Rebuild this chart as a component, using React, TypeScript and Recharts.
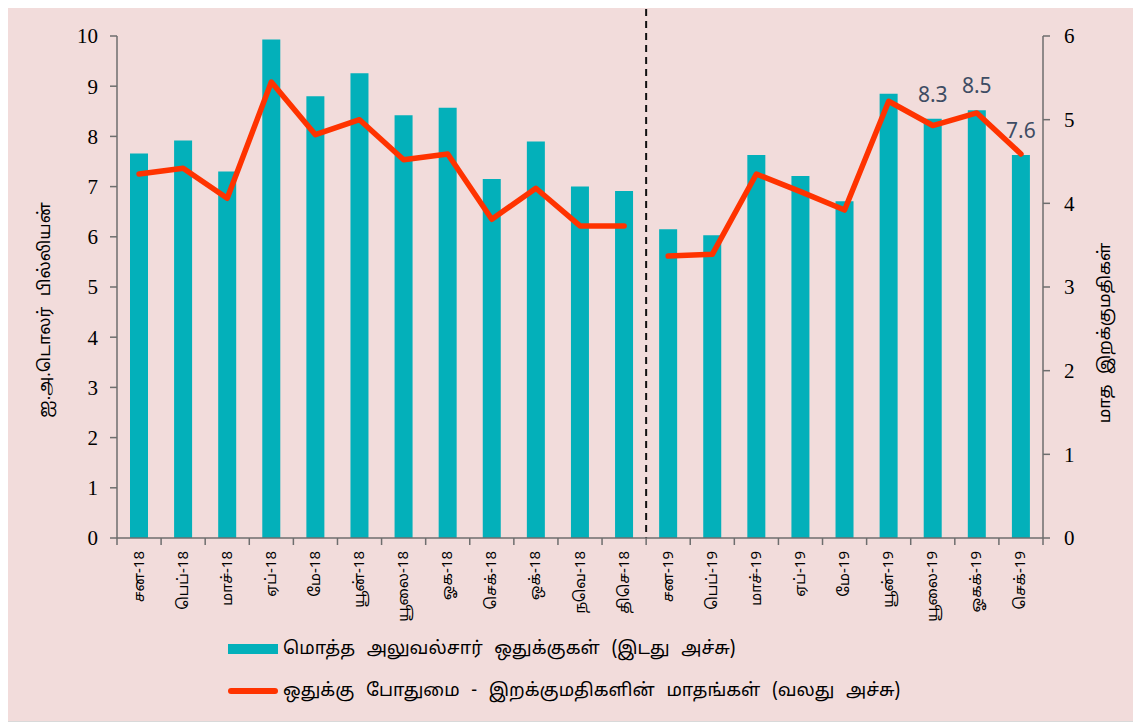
import React from 'react';
import { ComposedChart, Bar, Line, XAxis, YAxis, ReferenceLine, LabelList } from 'recharts';

// months as printed on the axis
const months = [
  'சன-18', 'பெப்-18', 'மாச்-18', 'ஏப்-18', 'மே-18', 'யூன்-18', 'யூலை-18', 'ஓக-18', 'செக்-18', 'ஒக்-18', 'நவெ-18', 'திசெ-18',
  'சன-19', 'பெப்-19', 'மாச்-19', 'ஏப்-19', 'மே-19', 'யூன்-19', 'யூலை-19', 'ஓகக்-19', 'செக்-19',
];

// total official reserves, US$ bn (left axis)
const reserves = [7.66, 7.92, 7.3, 9.93, 8.8, 9.26, 8.42, 8.57, 7.15, 7.9, 7.0, 6.91, 6.15, 6.03, 7.63, 7.21, 6.71, 8.85, 8.35, 8.52, 7.63];
const reserveLabels = ['', '', '', '', '', '', '', '', '', '', '', '', '', '', '', '', '', '', '8.3', '8.5', '7.6'];

// reserve adequacy in months of imports (right axis)
const cover2018 = [4.35, 4.42, 4.06, 5.45, 4.82, 5.0, 4.52, 4.59, 3.81, 4.18, 3.73, 3.73];
const cover2019 = [3.37, 3.39, 4.35, 4.14, 3.92, 5.22, 4.93, 5.08, 4.59];

const leftTicks = [0, 1, 2, 3, 4, 5, 6, 7, 8, 9, 10];
const rightTicks = [0, 1, 2, 3, 4, 5, 6];

const data = months.map((m, i) => ({
  month: m,
  reserves: reserves[i],
  label: reserveLabels[i],
  cover18: i < cover2018.length ? cover2018[i] : null,
  cover19: i >= cover2018.length ? cover2019[i - cover2018.length] : null,
}));

const TEAL = '#03B0BA';
const RED = '#FF3300';
const AXIS = '#6e6e6e';
const TAMIL = "'Noto Sans Tamil', 'Latha', 'Noto Sans', sans-serif";
const NUM = "'Liberation Serif', serif";

const PLOT_W = 926;
const BAND = PLOT_W / months.length;

const MonthTick = (props: any) => {
  const { x, y, payload, index } = props;
  const last = index === months.length - 1;
  return (
    <g>
      <line x1={x - BAND / 2} x2={x - BAND / 2} y1={y} y2={y + 7} stroke={AXIS} strokeWidth={1.5} />
      {last && <line x1={x + BAND / 2} x2={x + BAND / 2} y1={y} y2={y + 7} stroke={AXIS} strokeWidth={1.5} />}
      <text
        x={x + 1}
        y={y + 13}
        transform={`rotate(-90 ${x + 1} ${y + 13})`}
        textAnchor="end"
        dominantBaseline="central"
        fontSize={15}
        fontFamily={TAMIL}
        fill="#000"
      >
        {payload.value}
      </text>
    </g>
  );
};

const AxisTitle = (props: any) => {
  const { viewBox, value, dx, dy } = props;
  const cx = viewBox.x + dx;
  const cy = viewBox.y + viewBox.height / 2 + dy;
  return (
    <text
      x={cx}
      y={cy}
      transform={`rotate(-90 ${cx} ${cy})`}
      textAnchor="middle"
      dominantBaseline="central"
      fontSize={17}
      fontFamily={TAMIL}
      wordSpacing={6}
      fill="#000"
    >
      {value}
    </text>
  );
};

const Divider = (props: any) => {
  const { x1, y1, y2 } = props;
  const x = x1 + BAND / 2;
  return (
    <line
      x1={x}
      x2={x}
      y1={Math.min(y1, y2) - 27}
      y2={Math.max(y1, y2)}
      stroke="#111"
      strokeWidth={2}
      strokeDasharray="7 5"
    />
  );
};

export default function App() {
  return (
    <div
      style={{
        position: 'relative',
        width: 1135,
        height: 716,
        margin: '-2px 0 0 -2px',
        background: '#F2DCDB',
        border: '1px solid #d9d9d9',
        boxSizing: 'border-box',
      }}
    >
      <ComposedChart
        width={1133}
        height={714}
        data={data}
        margin={{ top: 29, right: 37, bottom: 93, left: 0 }}
        barSize={18}
      >
        <XAxis
          dataKey="month"
          xAxisId="m"
          interval={0}
          height={90}
          tickSize={0}
          tickMargin={0}
          tick={<MonthTick />}
          axisLine={{ stroke: AXIS, strokeWidth: 1.5 }}
        />
        <YAxis
          yAxisId="left"
          domain={[0, 10]}
          ticks={leftTicks}
          width={110}
          tickSize={7}
          tickMargin={12}
          interval={0}
          axisLine={{ stroke: AXIS, strokeWidth: 1.5 }}
          tickLine={{ stroke: AXIS, strokeWidth: 1.5 }}
          tick={{ fill: '#000', fontSize: 21, fontFamily: NUM }}
          label={<AxisTitle value="ஐ.அ.டொலர் பில்லியன்" dx={38} dy={23} />}
        />
        <YAxis
          yAxisId="right"
          orientation="right"
          domain={[0, 6]}
          ticks={rightTicks}
          width={60}
          tickSize={7}
          tickMargin={14}
          interval={0}
          axisLine={{ stroke: AXIS, strokeWidth: 1.5 }}
          tickLine={{ stroke: AXIS, strokeWidth: 1.5 }}
          tick={{ fill: '#000', fontSize: 21, fontFamily: NUM, textAnchor: 'start' }}
          label={<AxisTitle value="மாத இறக்குமதிகள்" dx={62} dy={46} />}
        />
        <ReferenceLine x="திசெ-18" xAxisId="m" yAxisId="left" shape={<Divider />} />
        <Bar dataKey="reserves" xAxisId="m" yAxisId="left" fill={TEAL} isAnimationActive={false}>
          <LabelList
            dataKey="label"
            position="top"
            offset={17}
            fill="#3E4C63"
            fontSize={21}
            fontFamily="'Noto Sans', 'Open Sans', sans-serif"
          />
        </Bar>
        <Line
          dataKey="cover18"
          xAxisId="m"
          yAxisId="right"
          stroke={RED}
          strokeWidth={5.5}
          strokeLinecap="round"
          strokeLinejoin="round"
          dot={false}
          activeDot={false}
          connectNulls={false}
          isAnimationActive={false}
        />
        <Line
          dataKey="cover19"
          xAxisId="m"
          yAxisId="right"
          stroke={RED}
          strokeWidth={5.5}
          strokeLinecap="round"
          strokeLinejoin="round"
          dot={false}
          activeDot={false}
          connectNulls={false}
          isAnimationActive={false}
        />
      </ComposedChart>

      <div
        style={{
          position: 'absolute',
          left: 220,
          top: 627,
          fontFamily: TAMIL,
          fontSize: 18,
          wordSpacing: 7,
          color: '#000',
        }}
      >
        <div style={{ display: 'flex', alignItems: 'center', height: 30 }}>
          <svg width={52} height={12} style={{ marginRight: 4 }}>
            <rect x={1} y={1} width={50} height={10} fill={TEAL} />
          </svg>
          <span>மொத்த அலுவல்சார் ஒதுக்குகள் (இடது அச்சு)</span>
        </div>
        <div style={{ display: 'flex', alignItems: 'center', height: 30, marginTop: 12 }}>
          <svg width={52} height={12} style={{ marginRight: 4 }}>
            <line x1={4} x2={48} y1={6} y2={6} stroke={RED} strokeWidth={6} strokeLinecap="round" />
          </svg>
          <span>ஒதுக்கு போதுமை - இறக்குமதிகளின் மாதங்கள் (வலது அச்சு)</span>
        </div>
      </div>
    </div>
  );
}
